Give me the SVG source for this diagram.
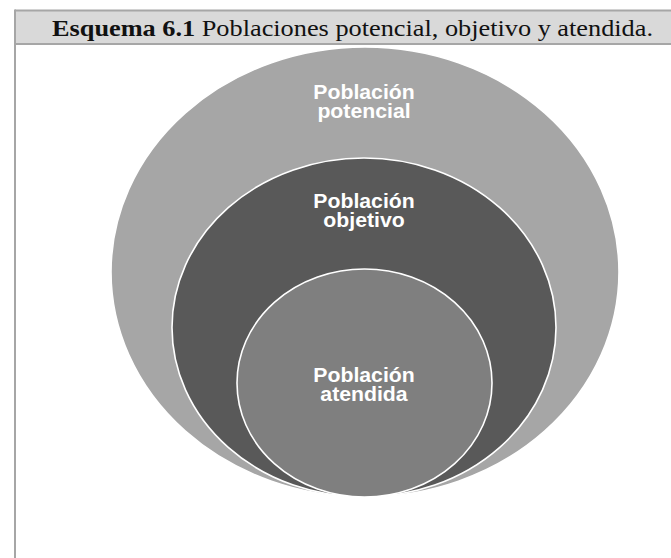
<svg xmlns="http://www.w3.org/2000/svg" width="671" height="558" viewBox="0 0 671 558">
<style>
.frame{stroke:#a6a6a6;stroke-width:2;fill:none}
.title{font-family:"Liberation Serif","Times New Roman",serif;font-size:24px;fill:#111}
.lbl{font-family:"Liberation Sans",Arial,sans-serif;font-weight:bold;font-size:19.5px;fill:#ffffff;text-anchor:middle}
.ring{stroke:#ffffff;stroke-width:1.6}
</style>
<rect x="0" y="0" width="671" height="558" fill="#ffffff"/>
<g id="header">
<rect x="15" y="10.5" width="656" height="33.5" fill="#d9d9d9"/>
<line class="frame" x1="15" y1="10.5" x2="671" y2="10.5"/>
<line class="frame" x1="15" y1="44" x2="671" y2="44"/>
<line class="frame" x1="15" y1="9.5" x2="15" y2="558"/>
<text class="title" x="52" y="36" textLength="601" lengthAdjust="spacingAndGlyphs"><tspan font-weight="bold">Esquema 6.1</tspan> Poblaciones potencial, objetivo y atendida.</text>
</g>
<g id="potencial">
<ellipse class="ring" cx="365" cy="272" rx="254" ry="225" fill="#a6a6a6"/>
<g transform="translate(364,0) scale(1.09,1)"><text class="lbl" x="0" y="99">Población</text><text class="lbl" x="0" y="118.5">potencial</text></g>
</g>
<g id="objetivo">
<ellipse class="ring" cx="364" cy="327.5" rx="192" ry="169.5" fill="#595959"/>
<g transform="translate(364,0) scale(1.09,1)"><text class="lbl" x="0" y="208.5">Población</text><text class="lbl" x="0" y="227.5">objetivo</text></g>
</g>
<g id="atendida">
<ellipse class="ring" cx="364.5" cy="383" rx="127.5" ry="114" fill="#7f7f7f"/>
<g transform="translate(364,0) scale(1.09,1)"><text class="lbl" x="0" y="382">Población</text><text class="lbl" x="0" y="401">atendida</text></g>
</g>
<g id="connectors"/>
</svg>
